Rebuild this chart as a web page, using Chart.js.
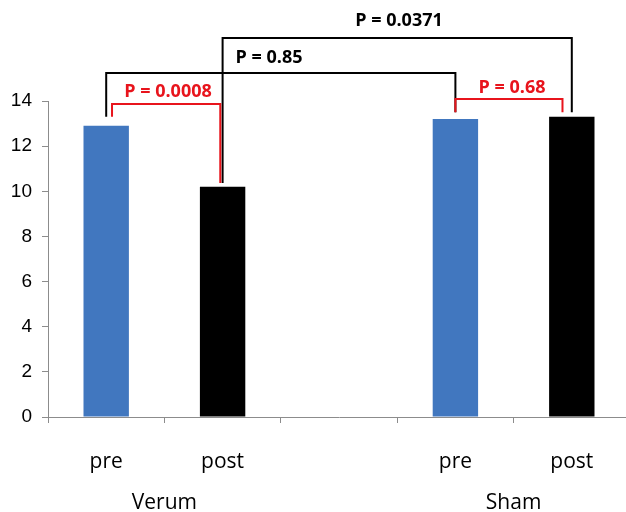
<!DOCTYPE html>
<html>
<head>
<meta charset="utf-8">
<script src="https://cdn.jsdelivr.net/npm/chart.js@4"></script>
<style>
  html, body { margin: 0; padding: 0; background: #fff; overflow: hidden; }
  #wrap { width: 630px; height: 512px; }
</style>
</head>
<body>
<div id="wrap"><canvas id="barChart"></canvas></div>
<script>
const categories = ["pre", "post", "", "pre", "post"];
const values = [12.9, 10.2, null, 13.2, 13.3];
const groups = ["Verum", "Sham"];
const groupPos = [0.5, 3.5];
const yTicks = [0, 2, 4, 6, 8, 10, 12, 14];

// brackets: text, left index, right index, bar height, left foot, right foot
const pLabels = ["P = 0.0371", "P = 0.85", "P = 0.0008", "P = 0.68"];
const pLeft = [1, 0, 0.05, 3];
const pRight = [4, 3, 0.98, 3.92];
const pTop = [16.79, 15.24, 13.87, 14.09];
const pFootL = [10.37, 13.3, 13.3, 13.5];
const pFootR = [13.5, 13.5, 10.37, 13.5];
const pRed = [false, false, true, true];

const BLUE = "#4177bf";
const RED = "#e8141c";

const bracketPlugin = {
  id: "brackets",
  afterDraw(chart) {
    const ctx = chart.ctx;
    const x = chart.scales.x, y = chart.scales.y;
    ctx.save();
    ctx.lineWidth = 2;
    for (let i = 0; i < pLabels.length; i++) {
      const col = pRed[i] ? RED : "#000";
      const xl = x.getPixelForValue(pLeft[i]);
      const xr = x.getPixelForValue(pRight[i]);
      const yt = y.getPixelForValue(pTop[i]);
      ctx.strokeStyle = col;
      ctx.beginPath();
      ctx.moveTo(xl, y.getPixelForValue(pFootL[i]));
      ctx.lineTo(xl, yt);
      ctx.lineTo(xr, yt);
      ctx.lineTo(xr, y.getPixelForValue(pFootR[i]));
      ctx.stroke();
    }
    // texts
    ctx.font = "bold 18px 'Open Sans'";
    ctx.textAlign = "center";
    ctx.textBaseline = "middle";
    const tx = [399, 269, 168, 512];
    const ty = [21, 58, 92, 88];
    for (let i = 0; i < pLabels.length; i++) {
      ctx.fillStyle = pRed[i] ? RED : "#000";
      ctx.fillText(pLabels[i], tx[i], ty[i]);
    }
    // group labels under the axis
    ctx.font = "21px 'Open Sans'";
    ctx.fillStyle = "#000";
    for (let g = 0; g < groups.length; g++) {
      ctx.fillText(groups[g], x.getPixelForValue(groupPos[g]), 503);
    }
    ctx.restore();
  }
};

new Chart(document.getElementById("barChart"), {
  type: "bar",
  data: {
    labels: categories,
    datasets: [{
      data: values,
      backgroundColor: [BLUE, "#000", "#000", BLUE, "#000"],
      barPercentage: 0.39,
      categoryPercentage: 1
    }]
  },
  options: {
    responsive: true,
    maintainAspectRatio: false,
    animation: false,
    layout: { padding: { top: 101, right: 0, left: 0, bottom: 0 } },
    plugins: {
      legend: { display: false },
      tooltip: { enabled: false }
    },
    scales: {
      x: {
        grid: {
          offset: true,
          drawOnChartArea: false,
          tickLength: 6,
          color: "#8c8c8c"
        },
        border: { color: "#8c8c8c", width: 1 },
        ticks: {
          color: "#000",
          font: { family: "'Open Sans'", size: 21 },
          padding: 26,
          maxRotation: 0
        },
        afterFit(scale) { scale.height = 95; }
      },
      y: {
        min: 0,
        max: 14,
        afterBuildTicks(scale) { scale.ticks = yTicks.map(v => ({ value: v })); },
        grid: {
          drawOnChartArea: false,
          tickLength: 6,
          color: "#8c8c8c"
        },
        border: { color: "#8c8c8c", width: 1 },
        ticks: {
          color: "#000",
          font: { family: "'Liberation Sans'", size: 19 },
          padding: 10
        },
        afterFit(scale) { scale.width = 48; }
      }
    }
  },
  plugins: [bracketPlugin]
});
</script>
</body>
</html>
